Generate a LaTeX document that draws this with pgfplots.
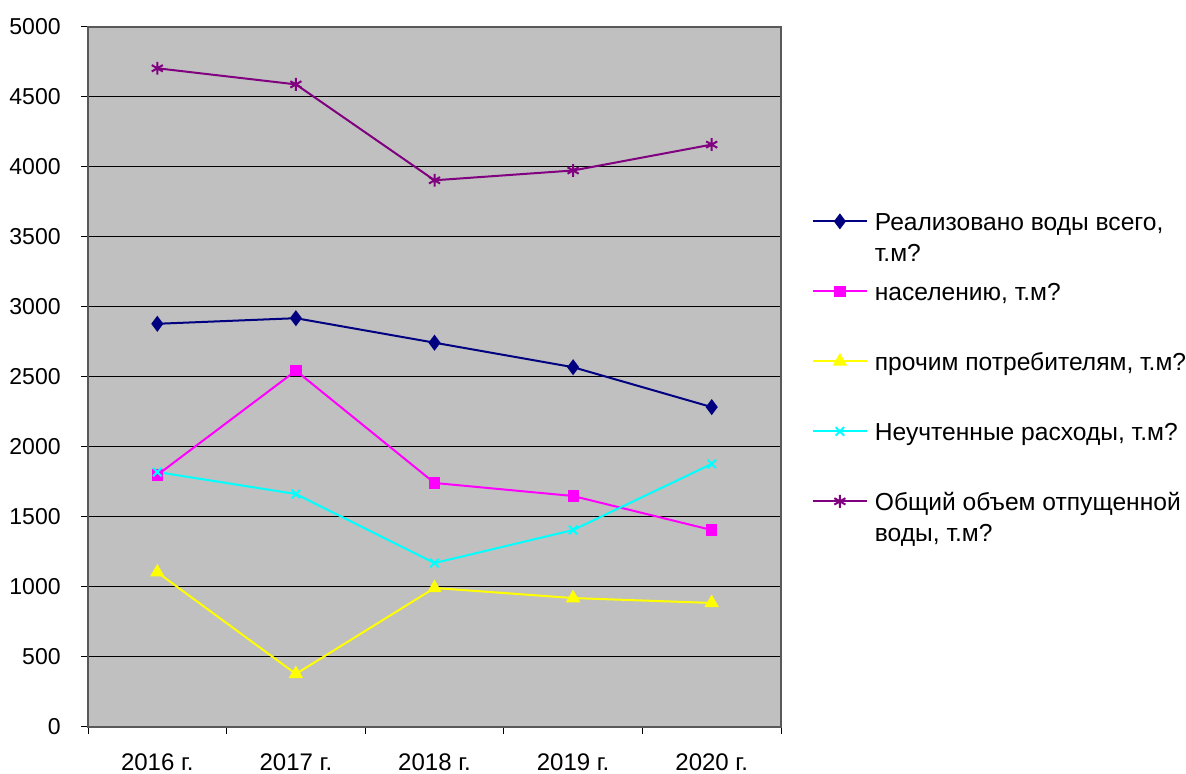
\documentclass[border=0pt]{standalone}
\usepackage{pgfplots}
\pgfplotsset{compat=1.18}
\usepackage{fontspec}
\setmainfont{Liberation Sans}
\definecolor{cnavy}{RGB}{0,0,128}
\definecolor{cmag}{RGB}{255,0,255}
\definecolor{cyel}{RGB}{255,255,0}
\definecolor{ccyan}{RGB}{0,255,255}
\definecolor{cpurp}{RGB}{128,0,128}
\definecolor{cbg}{RGB}{192,192,192}
\newcommand{\lgent}[1]{\raisebox{0pt}[21.9pt][13.1pt]{\begin{tabular}[t]{@{}l@{}}#1\end{tabular}}}
\begin{document}
\fontsize{12pt}{15.5pt}\selectfont
\begin{tikzpicture}
\useasboundingbox (0,0) rectangle (593pt,387pt);
\begin{axis}[
  at={(44pt,23.5pt)}, anchor=south west,
  scale only axis, width=346.5pt, height=350pt,
  xmin=-0.5, xmax=4.5, ymin=0, ymax=5000,
  ytick={0,500,...,5000},
  xtick={-0.5,0.5,1.5,2.5,3.5,4.5},
  x tick label as interval,
  xticklabels={2016 г.,2017 г.,2018 г.,2019 г.,2020 г.},
  tick pos=left,
  tick align=outside,
  major tick length=3.5pt,
  ymajorgrids,
  major grid style={black, line width=0.5pt},
  tick style={black, line width=0.5pt},
  axis background/.style={fill=cbg},
  axis line style={draw=gray!70!black, line width=0.8pt},
  /pgf/number format/assume math mode=true,
  scaled y ticks=false,
  yticklabel style={/pgf/number format/1000 sep={}, font=\fontsize{11.5pt}{12pt}\selectfont},
  xticklabel style={font=\fontsize{12pt}{13pt}\selectfont, yshift=-5.5pt},
  yticklabel shift=6pt,
  every axis plot/.append style={line width=1pt},
  legend cell align=left,
  legend style={at={(1.044,0.7729)}, anchor=north west, draw=none, fill=none,
    inner sep=0pt, row sep=0pt, column sep=3.5pt,
    nodes={inner sep=0pt, text depth=, font=\fontsize{12.3pt}{15.5pt}\selectfont}},
  legend image code/.code={\draw[mark repeat=2,mark phase=2,#1] plot coordinates {(0pt,0pt) (13.5pt,0pt) (27pt,0pt)};},
]
\addplot[cnavy, mark=diamond*, mark size=3.2pt, mark options={solid}] coordinates {(0,2880) (1,2920) (2,2745) (3,2570) (4,2285)};
\addlegendentry{\lgent{Реализовано воды всего,\\т.м?}}
\addplot[cmag, mark=square*, mark size=2.3pt] coordinates {(0,1800) (1,2545) (2,1743) (3,1650) (4,1407)};
\addlegendentry{\lgent{населению, т.м?}}
\addplot[cyel, mark=triangle*, mark size=3.2pt] coordinates {(0,1105) (1,379) (2,993) (3,921) (4,886)};
\addlegendentry{\lgent{прочим потребителям, т.м?}}
\addplot[ccyan, mark=x, mark size=3pt] coordinates {(0,1821) (1,1664) (2,1171) (3,1407) (4,1879)};
\addlegendentry{\lgent{Неучтенные расходы, т.м?}}
\addplot[cpurp, mark=asterisk, mark size=3.2pt] coordinates {(0,4705) (1,4590) (2,3905) (3,3975) (4,4160)};
\addlegendentry{\lgent{Общий объем отпущенной\\воды, т.м?}}
\end{axis}
\end{tikzpicture}
\end{document}
